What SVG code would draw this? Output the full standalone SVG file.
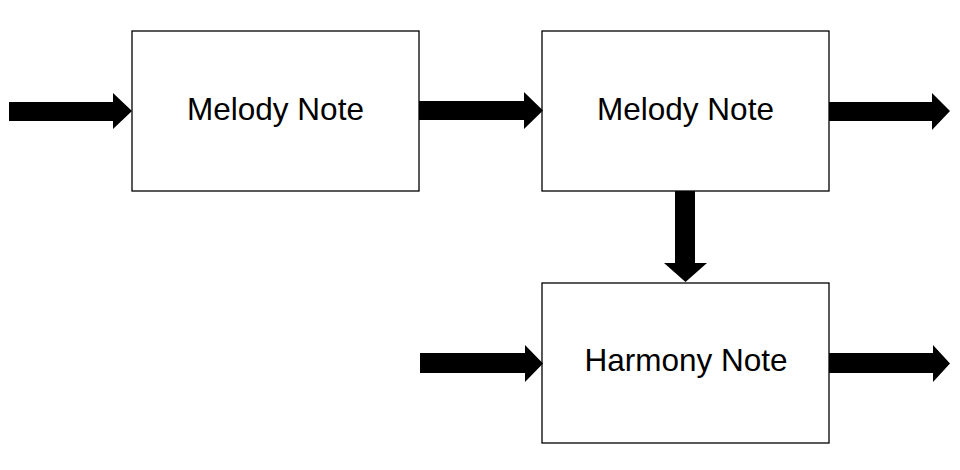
<svg xmlns="http://www.w3.org/2000/svg" width="960" height="470" viewBox="0 0 960 470">
<style>
.box{fill:#fff;stroke:#000;stroke-width:1.3}
.lbl{font-family:"Liberation Sans",Arial,sans-serif;font-size:31.5px;fill:#000;text-anchor:middle}
.arr{fill:#000}
</style>
<rect width="960" height="470" fill="#fff"/>
<g id="n1"><rect class="box" x="132" y="31" width="287" height="160"/><text class="lbl" x="275.5" y="120">Melody Note</text></g>
<g id="n2"><rect class="box" x="542" y="31" width="287" height="160"/><text class="lbl" x="685.5" y="120">Melody Note</text></g>
<g id="n3"><rect class="box" x="542" y="283" width="287" height="160"/><text class="lbl" x="686" y="371">Harmony Note</text></g>
<g id="connectors">
<polygon class="arr" points="9,102 113,102 113,93 132,111 113,129 113,121 9,121"/>
<polygon class="arr" points="419,101 524,101 524,92 543,110.5 524,129 524,120 419,120"/>
<polygon class="arr" points="675,191 695,191 695,263 707,263 685.5,282 664,263 675,263"/>
<polygon class="arr" points="829,102 932,102 932,93 950,111 932,130 932,121 829,121"/>
<polygon class="arr" points="420,353 525,353 525,345 543,363.5 525,382 525,373 420,373"/>
<polygon class="arr" points="829,353 933,353 933,345 950,363.5 933,382 933,373 829,373"/>
</g>
</svg>
